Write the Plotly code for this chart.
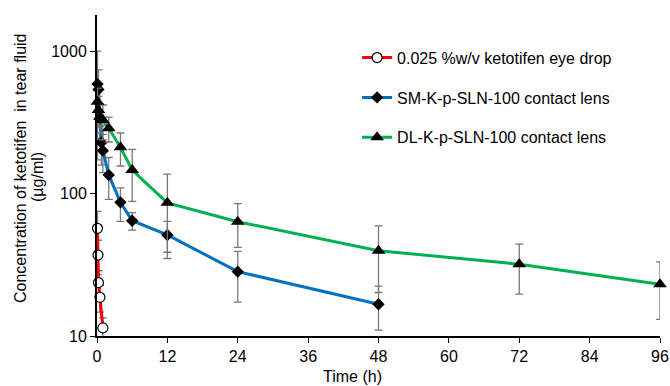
import plotly.graph_objects as go

# Eye drop
t_drop = [0.083, 0.167, 0.25, 0.5, 1.0]
c_drop = [57.0, 37.0, 23.7, 18.7, 11.4]
e_drop = [18.0, 10.0, 5.0, 4.0, 2.0]

# SM-K-p-SLN-100 contact lens
t_sm = [0.083, 0.25, 0.5, 0.75, 1, 2, 4, 6, 12, 24, 48]
c_sm = [586, 538, 334, 228, 200, 135, 86.7, 64.4, 51.2, 28.3, 16.7]
e_sm = [414, 200, 90, 70, 60, 44, 23, 9, 12.5, 11, 5.7]

# DL-K-p-SLN-100 contact lens
t_dl = [0.083, 0.25, 0.5, 1, 2, 4, 6, 12, 24, 48, 72, 96]
c_dl = [440, 385, 346, 328, 287, 211, 146, 86, 63.4, 39.7, 31.9, 23.1]
e_dl = [110, 95, 80, 90, 57, 55, 58, 51, 21.5, 19.5, 12.2, 10]

x_ticks = [0, 12, 24, 36, 48, 60, 72, 84, 96]
y_ticks = [10, 100, 1000]

y_title_1 = "Concentration of ketotifen  in tear fluid"
y_title_2 = "(µg/ml)"
x_title = "Time (h)"

FONT = "Liberation Sans, Arial, sans-serif"
ERR = dict(type="data", visible=True, color="rgb(120,120,120)", thickness=1.3, width=4)

W, H = 670, 386
ML, MR, MT, MB = 97, 10, 15, 50

fig = go.Figure()
fig.add_trace(go.Scatter(
    x=t_drop, y=c_drop, mode="lines+markers", name="0.025 %w/v ketotifen eye drop",
    line=dict(color="#FF0000", width=3),
    marker=dict(symbol="circle", size=10, color="white", line=dict(color="black", width=1.2)),
    error_y=dict(array=e_drop, **ERR), legendgroup="a", cliponaxis=False))
fig.add_trace(go.Scatter(
    x=t_sm, y=c_sm, mode="lines+markers", name="SM-K-p-SLN-100 contact lens",
    line=dict(color="#0070C0", width=3),
    marker=dict(symbol="diamond", size=9.5, color="black"),
    error_y=dict(array=e_sm, **ERR), legendgroup="b", cliponaxis=False))
fig.add_trace(go.Scatter(
    x=t_dl, y=c_dl, mode="lines+markers", name="DL-K-p-SLN-100 contact lens",
    line=dict(color="#00B050", width=3),
    marker=dict(symbol="triangle-up", size=12, color="black"),
    error_y=dict(array=e_dl, **ERR), legendgroup="c", cliponaxis=False))

pw = W - ML - MR
ph = H - MT - MB

def px_x(p):
    return (p - ML) / pw

def px_y(p):
    return (H - MB - p) / ph

fig.update_layout(
    width=W, height=H,
    margin=dict(l=ML, r=MR, t=MT, b=MB),
    paper_bgcolor="white", plot_bgcolor="white",
    font=dict(family=FONT, size=16, color="black"),
    legend=dict(x=0.462, y=0.92, xanchor="left", yanchor="top",
                bgcolor="rgba(0,0,0,0)", tracegroupgap=16,
                font=dict(size=16, color="black"), itemwidth=30),
    showlegend=True,
    annotations=[
        dict(text=y_title_1, xref="paper", yref="paper", x=px_x(20), y=px_y(168),
             xanchor="center", yanchor="middle", textangle=-90, showarrow=False,
             font=dict(size=16)),
        dict(text=y_title_2, xref="paper", yref="paper", x=px_x(37), y=px_y(177),
             xanchor="center", yanchor="middle", textangle=-90, showarrow=False,
             font=dict(size=16)),
        dict(text=x_title, xref="paper", yref="paper", x=px_x(352), y=px_y(376),
             xanchor="center", yanchor="middle", showarrow=False,
             font=dict(size=16)),
    ],
)
fig.update_xaxes(
    range=[0, 96], tickvals=x_ticks, ticktext=[str(v) for v in x_ticks],
    showgrid=False, zeroline=False, showline=True, linecolor="black", linewidth=2,
    ticks="outside", ticklen=5, tickcolor="black", tickwidth=1, automargin=False,
    tickfont=dict(size=16))
fig.update_yaxes(
    type="log", range=[1, 3.253], tickvals=y_ticks, ticktext=[str(v) for v in y_ticks],
    showgrid=False, zeroline=False, showline=True, linecolor="black", linewidth=2,
    ticks="outside", ticklen=5, tickcolor="black", tickwidth=1, automargin=False,
    tickfont=dict(size=16))

fig.write_html("out.html", config={"displayModeBar": False},
               post_script="document.body.style.margin='0';document.body.style.padding='0';")
